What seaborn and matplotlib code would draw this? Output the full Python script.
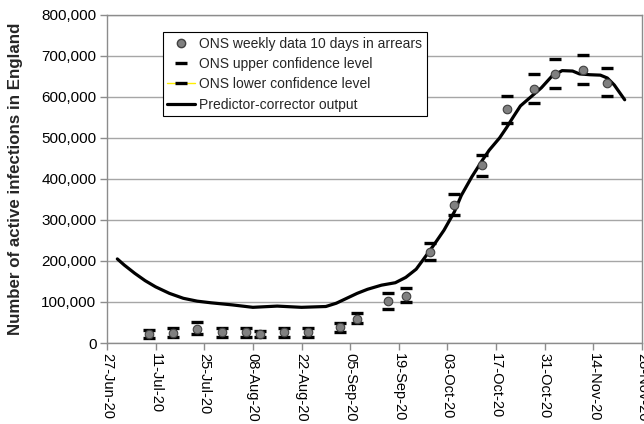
import numpy as np
import pandas as pd
import matplotlib
matplotlib.use("Agg")
import matplotlib.pyplot as plt
import matplotlib.dates as mdates
from matplotlib.lines import Line2D
from matplotlib.ticker import FuncFormatter
import seaborn as sns

# ONS weekly estimates (thousands of active infections)
ons_dates = ["2020-07-09", "2020-07-16", "2020-07-23", "2020-07-30", "2020-08-06",
             "2020-08-10", "2020-08-17", "2020-08-24", "2020-09-02", "2020-09-07",
             "2020-09-16", "2020-09-21", "2020-09-28", "2020-10-05", "2020-10-13",
             "2020-10-20", "2020-10-28", "2020-11-03", "2020-11-11", "2020-11-18"]
ons_mid = [22, 25, 33, 26, 26, 21, 26, 26, 40, 58,
           102, 115, 223, 337, 434, 570, 620, 655, 666, 635]
ons_upper = [32, 36, 51, 36, 36, 29, 36, 36, 50, 72,
             123, 133, 245, 363, 459, 602, 657, 692, 702, 670]
ons_lower = [13, 15, 21, 15, 15, 14, 15, 15, 26, 48,
             83, 101, 202, 312, 408, 537, 585, 621, 631, 601]

# Predictor-corrector model output (days after 27-Jun-20, thousands)
model_day = [3, 5, 8, 11, 14, 18, 22, 26, 30, 36, 42, 49, 56, 63, 66, 69, 72,
             75, 79, 83, 86, 89, 91, 94, 97, 100, 102, 105, 108, 110, 113, 115,
             117, 119, 122, 125, 128, 131, 134, 136, 139, 142, 144, 146, 149]
model_val = [205, 190, 170, 152, 137, 121, 109, 102, 98, 93, 87, 90, 87, 89,
             97, 109, 121, 131, 141, 147, 160, 180, 203, 238, 275, 320, 360,
             405, 445, 470, 500, 525, 552, 578, 600, 622, 650, 664, 663, 656,
             654, 653, 646, 629, 593]

start = pd.Timestamp("2020-06-27")
end = pd.Timestamp("2020-11-28")

ons = pd.DataFrame({
    "date": pd.to_datetime(ons_dates),
    "mid": np.array(ons_mid) * 1000,
    "upper": np.array(ons_upper) * 1000,
    "lower": np.array(ons_lower) * 1000,
})
model = pd.DataFrame({
    "date": start + pd.to_timedelta(model_day, unit="D"),
    "value": np.array(model_val) * 1000,
})

sns.set_style("ticks")
plt.rcParams["font.family"] = ["Liberation Sans", "DejaVu Sans"]

fig = plt.figure(figsize=(6.44, 4.24), dpi=100)
ax = fig.add_axes([0.166, 0.191, 0.831, 0.774])

grey = "#8c8c8c"
ax.yaxis.grid(True, color="#a6a6a6", linewidth=1.0)
ax.set_axisbelow(True)
for sp in ax.spines.values():
    sp.set_color(grey)
    sp.set_linewidth(1.0)

sns.lineplot(data=model, x="date", y="value", ax=ax, color="black",
             linewidth=2.3, zorder=3)
sns.scatterplot(data=ons, x="date", y="upper", ax=ax, marker="_", s=80,
                color="black", linewidth=2.4, zorder=4)
sns.scatterplot(data=ons, x="date", y="lower", ax=ax, marker="_", s=80,
                color="black", linewidth=2.4, zorder=4)
sns.scatterplot(data=ons, x="date", y="mid", ax=ax, marker="o", s=38,
                color="#808080", edgecolor="#404040", linewidth=0.8, zorder=5)

ax.set_xlim(start, end)
ax.set_ylim(0, 800000)
ax.set_yticks(np.arange(0, 800001, 100000))
ax.yaxis.set_major_formatter(FuncFormatter(lambda v, p: f"{int(v):,}"))
ax.set_xticks(pd.date_range(start, end, freq="14D"))
ax.xaxis.set_major_formatter(mdates.DateFormatter("%d-%b-%y"))
ax.tick_params(axis="y", colors=grey, labelcolor="black", length=5,
               width=1.0, labelsize=11, pad=2.5)
ax.tick_params(axis="x", colors=grey, labelcolor="black", length=5,
               width=1.0, labelsize=10.5, pad=2)
plt.setp(ax.get_xticklabels(), rotation=270, ha="center", va="top")

ax.set_xlabel("")
ax.set_ylabel("Number of active infections in England", fontsize=12.2,
              fontweight="bold")
ax.yaxis.set_label_coords(-0.157, 0.5)

handles = [
    Line2D([], [], linestyle="none", marker="o", markersize=6,
           markerfacecolor="#808080", markeredgecolor="#404040"),
    Line2D([], [], linestyle="none", marker="_", markersize=9,
           markeredgewidth=2.4, color="black"),
    Line2D([], [], color="#ffee00", linewidth=1.0, marker="_", markersize=9,
           markeredgewidth=2.4, markeredgecolor="black"),
    Line2D([], [], color="black", linewidth=2.3),
]
labels = ["ONS weekly data 10 days in arrears", "ONS upper confidence level",
          "ONS lower confidence level", "Predictor-corrector output"]
leg = ax.legend(handles, labels, loc="upper left",
                bbox_to_anchor=(0.104, 0.948), fontsize=10, frameon=True,
                fancybox=False, framealpha=1, edgecolor="black",
                borderpad=0.35, labelspacing=0.45, handlelength=2.0,
                handletextpad=0.3, borderaxespad=0)
leg.get_frame().set_linewidth(0.8)

fig.savefig("out.png", dpi=100)
